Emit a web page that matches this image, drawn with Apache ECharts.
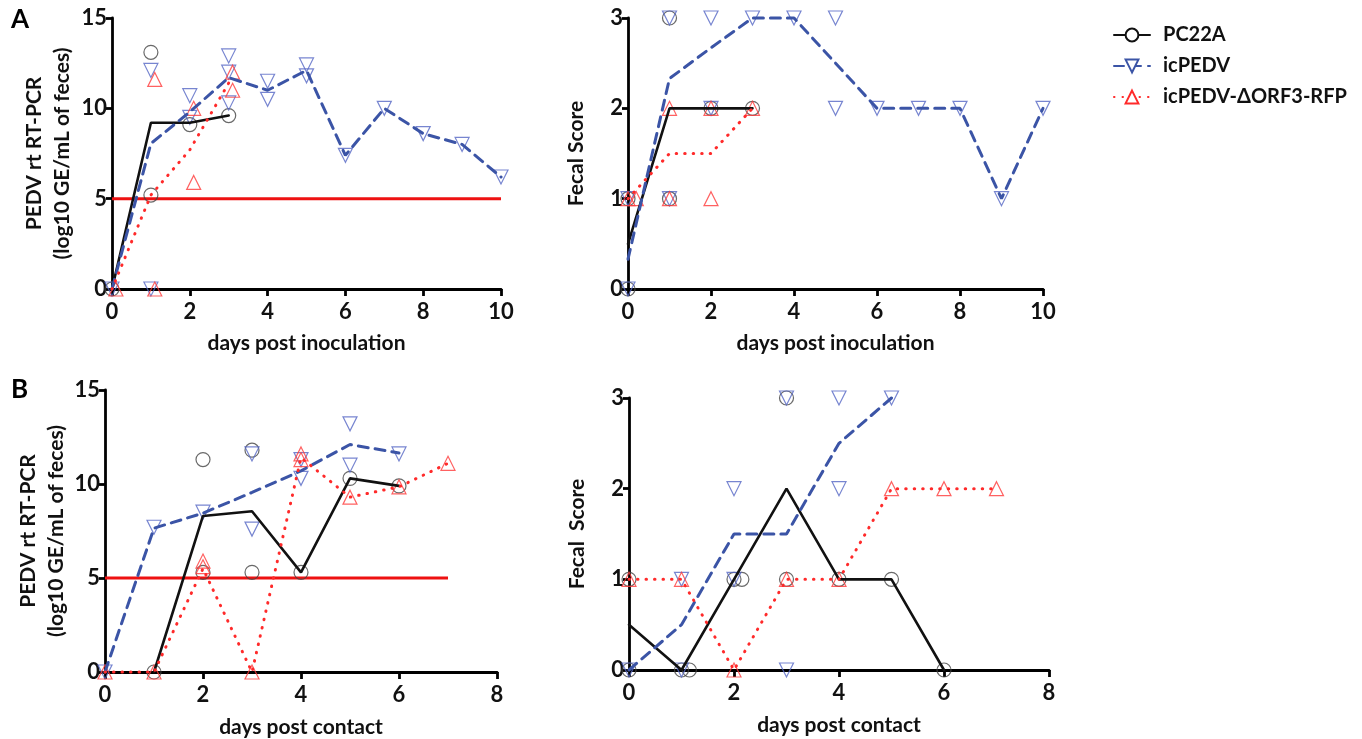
<!DOCTYPE html>
<html lang="en">

<head>
    <title>PEDV shedding and fecal scores</title>
    <meta charset="utf-8">
    <style>
        body {
            margin: 0;
            background-color: white;
        }
    </style>
</head>

<body>
    <div id="chart" style="width: 1362px; height: 739px"></div>
    <script src="https://cdn.jsdelivr.net/npm/echarts@6/dist/echarts.min.js"></script>
    <script>
        // group names
        var names = ["PC22A", "icPEDV", "icPEDV-\u0394ORF3-RFP"];

        // A left: rt RT-PCR after inoculation  [day, value]
        var pcrA_pc22a_mean = [[0, 0], [1, 9.2], [2, 9.2], [3, 9.6]];
        var pcrA_pc22a_pts = [[0, 0], [1, 13.1], [1, 5.2], [2, 9.1], [3, 9.6]];
        var pcrA_ic_mean = [[0, 0], [1, 8.05], [2, 9.8], [3, 11.7], [4, 11.0], [5, 12.1], [6, 7.4], [7, 10.0], [8, 8.6], [9, 8.0], [10, 6.2]];
        var pcrA_ic_pts = [[0, 0], [1, 12.1], [1, 0], [2, 10.7], [2, 9.5], [3, 12.9], [3, 12.0], [3, 10.3], [4, 11.5], [4, 10.5], [5, 12.4], [5, 11.8], [6, 7.4], [7, 10.0], [8, 8.6], [9, 8.0], [10, 6.2]];
        var pcrA_rfp_mean = [[0, 0], [1, 5.2], [2, 7.7], [3, 11.4]];
        var pcrA_rfp_pts = [[0.1, 0], [1.1, 11.6], [1.1, 0], [2.1, 10.0], [2.1, 5.9], [3.1, 12.0], [3.1, 11.0]];
        var cutoffA = [[0, 5], [10, 5]];

        // A right: fecal score after inoculation
        var fsA_pc22a_mean = [[0, 0.5], [1, 2], [2, 2], [3, 2]];
        var fsA_pc22a_pts = [[0, 1], [0, 0], [1, 3], [1, 1], [2, 2], [3, 2]];
        var fsA_ic_mean = [[0, 0.33], [1, 2.33], [2, 2.67], [3, 3], [4, 3], [5, 2.5], [6, 2], [7, 2], [8, 2], [9, 1], [10, 2]];
        var fsA_ic_pts = [[0, 1], [0, 0], [1, 3], [1, 1], [2, 3], [2, 2], [3, 3], [4, 3], [5, 3], [5, 2], [6, 2], [7, 2], [8, 2], [9, 1], [10, 2]];
        var fsA_rfp_mean = [[0, 1], [1, 1.5], [2, 1.5], [3, 2]];
        var fsA_rfp_pts = [[0, 1], [0.2, 1], [1, 2], [1, 1], [2, 2], [2, 1], [3, 2]];

        // B left: rt RT-PCR after contact
        var pcrB_pc22a_mean = [[1, 0], [2, 8.3], [3, 8.55], [4, 5.3], [5, 10.3], [6, 9.9]];
        var pcrB_pc22a_pts = [[1, 0], [2, 11.3], [2, 5.3], [3, 11.8], [3, 5.3], [4, 5.3], [5, 10.3], [6, 9.9]];
        var pcrB_ic_mean = [[0, 0], [1, 7.65], [2, 8.45], [3, 9.55], [4, 10.7], [5, 12.1], [6, 11.65]];
        var pcrB_ic_pts = [[0, 0], [1, 7.7], [2, 8.5], [3, 11.6], [3, 7.6], [4, 11.3], [4, 10.3], [5, 13.2], [5, 11.0], [6, 11.6]];
        var pcrB_rfp_mean = [[0, 0], [1, 0], [2, 5.5], [3, 0], [4, 11.4], [5, 9.3], [6, 9.85], [7, 11.1]];
        var pcrB_rfp_pts = [[0, 0], [1, 0], [2, 5.9], [2, 5.6], [3, 0], [4, 11.6], [4, 11.3], [5, 9.3], [6, 9.85], [7, 11.1]];
        var cutoffB = [[0, 5], [7, 5]];

        // B right: fecal score after contact
        var fsB_pc22a_mean = [[0, 0.5], [1, 0], [2, 1], [3, 2], [4, 1], [5, 1], [6, 0]];
        var fsB_pc22a_pts = [[0, 1], [0, 0], [1, 0], [1.15, 0], [2, 1], [2.15, 1], [3, 3], [3, 1], [4, 1], [5, 1], [6, 0]];
        var fsB_ic_mean = [[0, 0], [1, 0.5], [2, 1.5], [3, 1.5], [4, 2.5], [5, 3]];
        var fsB_ic_pts = [[0, 0], [1, 1], [1, 0], [2, 2], [2, 1], [3, 3], [3, 0], [4, 3], [4, 2], [5, 3]];
        var fsB_rfp_mean = [[0, 1], [1, 1], [2, 0], [3, 1], [4, 1], [5, 2], [6, 2], [7, 2]];
        var fsB_rfp_pts = [[0, 1], [1, 1], [2, 0], [3, 1], [4, 1], [5, 2], [6, 2], [7, 2]];

        var FONT = "Lato";
        var styles = [
            { line: "#111111", mark: "#444444", symbol: "circle", rotate: 0, type: "solid", width: 2.6 },
            { line: "#3b54a6", mark: "#5566c4", symbol: "triangle", rotate: 180, type: [10, 7], width: 3 },
            { line: "#ff2a2a", mark: "#ff3a3a", symbol: "triangle", rotate: 0, type: [0.5, 8], width: 3 }
        ];

        function meanLine(idx, g, data) {
            var s = styles[idx];
            return {
                name: names[idx], type: "line", xAxisIndex: g, yAxisIndex: g, data: data,
                symbol: "empty" + s.symbol.charAt(0).toUpperCase() + s.symbol.slice(1),
                symbolRotate: s.rotate, showSymbol: false, clip: false, z: 3,
                itemStyle: { color: s.line },
                lineStyle: { color: s.line, width: s.width, type: s.type, cap: "round" },
                silent: true
            };
        }

        function points(idx, g, data) {
            var s = styles[idx];
            return {
                name: names[idx] + " pts", type: "scatter", xAxisIndex: g, yAxisIndex: g, data: data,
                symbol: s.symbol, symbolRotate: s.rotate, symbolSize: 14, clip: false, z: 2,
                itemStyle: { color: "rgba(0,0,0,0)", borderColor: s.mark, borderWidth: 1.2 },
                silent: true
            };
        }

        function cutoff(g, data) {
            return {
                name: "cutoff", type: "line", xAxisIndex: g, yAxisIndex: g, data: data,
                showSymbol: false, symbol: "none", z: 1,
                lineStyle: { color: "#ee1111", width: 3 }, silent: true
            };
        }

        function xAx(g, max, title, gap) {
            return {
                type: "value", gridIndex: g, min: 0, max: max, interval: 2,
                name: title, nameLocation: "middle", nameGap: gap,
                nameTextStyle: { fontFamily: FONT, fontWeight: "bold", fontSize: 21, color: "#111" },
                axisLine: { onZero: false, lineStyle: { color: "#000", width: 2.8 } },
                axisTick: { length: 7, lineStyle: { color: "#000", width: 2.8 } },
                axisLabel: { fontFamily: FONT, fontWeight: "bold", fontSize: 22, color: "#111", margin: 12 },
                splitLine: { show: false }
            };
        }

        function yAx(g, max, step, title, gap) {
            return {
                type: "value", gridIndex: g, min: 0, max: max, interval: step,
                name: title, nameLocation: "middle", nameGap: gap,
                nameTextStyle: { fontFamily: FONT, fontWeight: "bold", fontSize: 21, color: "#111", lineHeight: 28 },
                axisLine: { show: true, onZero: false, lineStyle: { color: "#000", width: 2.8 } },
                axisTick: { show: true, length: 6, lineStyle: { color: "#000", width: 2.8 } },
                axisLabel: { fontFamily: FONT, fontWeight: "bold", fontSize: 22, color: "#111", margin: 5 },
                splitLine: { show: false }
            };
        }

        var chart = echarts.init(document.getElementById("chart"), null, { renderer: "canvas" });

        chart.setOption({
            animation: false,
            backgroundColor: "#fff",
            title: [
                { text: "A", left: 6, top: 2, textStyle: { fontFamily: FONT, fontWeight: "bold", fontSize: 26, color: "#000" } },
                { text: "B", left: 6, top: 372, textStyle: { fontFamily: FONT, fontWeight: "bold", fontSize: 26, color: "#000" } }
            ],
            legend: {
                data: names, orient: "vertical", left: 1108, top: 20,
                itemWidth: 36, itemHeight: 16, itemGap: 11, selectedMode: false,
                textStyle: { fontFamily: FONT, fontWeight: "bold", fontSize: 20, color: "#111", padding: [0, 0, 0, 8] }
            },
            grid: [
                { left: 112, top: 18, width: 389, height: 271 },
                { left: 628, top: 18, width: 415, height: 271 },
                { left: 105, top: 390, width: 392, height: 282 },
                { left: 629, top: 398, width: 420, height: 272 }
            ],
            xAxis: [
                xAx(0, 10, "days post inoculation", 44),
                xAx(1, 10, "days post inoculation", 44),
                xAx(2, 8, "days post contact", 45),
                xAx(3, 8, "days post contact", 45)
            ],
            yAxis: [
                yAx(0, 15, 5, "PEDV rt RT-PCR\n(log10 GE/mL of feces)", 36),
                yAx(1, 3, 1, "Fecal Score", 38),
                yAx(2, 15, 5, "PEDV rt RT-PCR\n(log10 GE/mL of feces)", 34),
                yAx(3, 3, 1, "Fecal  Score", 38)
            ],
            series: [
                cutoff(0, cutoffA),
                points(0, 0, pcrA_pc22a_pts), points(1, 0, pcrA_ic_pts), points(2, 0, pcrA_rfp_pts),
                meanLine(0, 0, pcrA_pc22a_mean), meanLine(1, 0, pcrA_ic_mean), meanLine(2, 0, pcrA_rfp_mean),

                points(0, 1, fsA_pc22a_pts), points(1, 1, fsA_ic_pts), points(2, 1, fsA_rfp_pts),
                meanLine(0, 1, fsA_pc22a_mean), meanLine(1, 1, fsA_ic_mean), meanLine(2, 1, fsA_rfp_mean),

                cutoff(2, cutoffB),
                points(0, 2, pcrB_pc22a_pts), points(1, 2, pcrB_ic_pts), points(2, 2, pcrB_rfp_pts),
                meanLine(0, 2, pcrB_pc22a_mean), meanLine(1, 2, pcrB_ic_mean), meanLine(2, 2, pcrB_rfp_mean),

                points(0, 3, fsB_pc22a_pts), points(1, 3, fsB_ic_pts), points(2, 3, fsB_rfp_pts),
                meanLine(0, 3, fsB_pc22a_mean), meanLine(1, 3, fsB_ic_mean), meanLine(2, 3, fsB_rfp_mean)
            ]
        });
    </script>
</body>

</html>
